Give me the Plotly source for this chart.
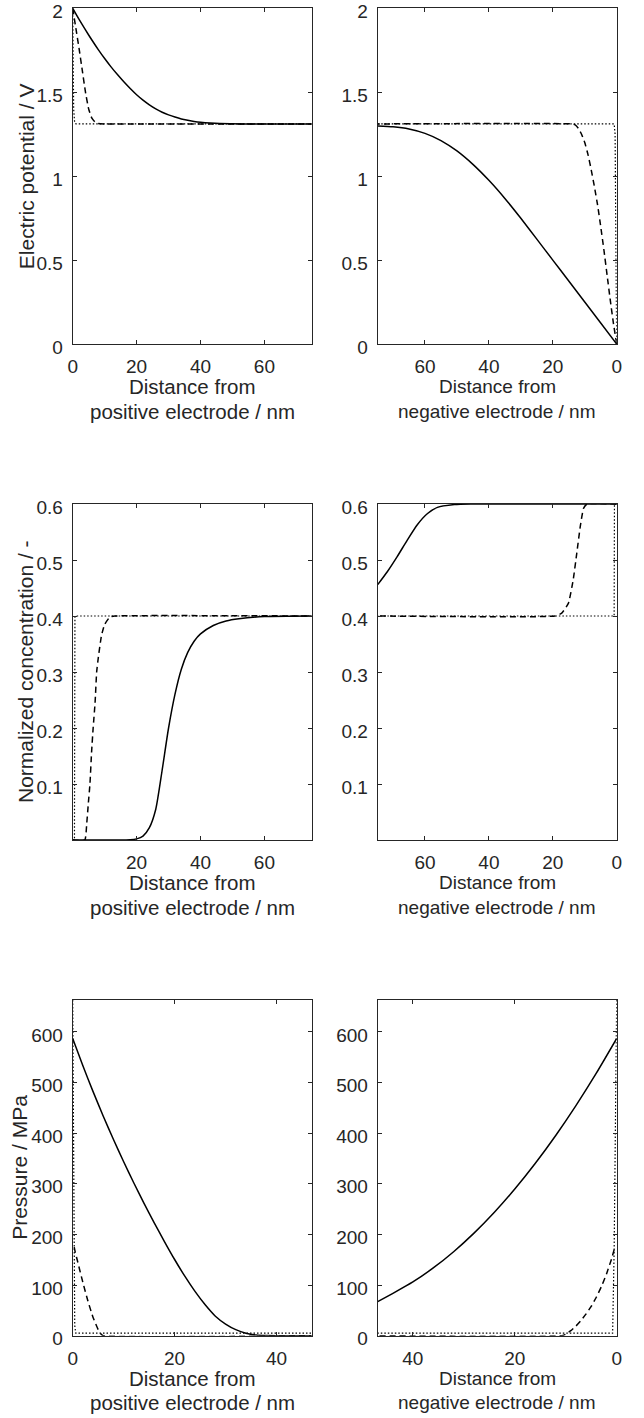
import plotly.graph_objects as go

# ---------------- data ----------------
# Row 1: electric potential / V
pot_pos_solid_x = [0, 2, 4, 6, 8, 10, 12, 14, 16, 18, 20, 22, 24, 26, 28, 30, 32, 34, 36, 38, 40, 43, 46, 50, 55, 74.8]
pot_pos_solid_y = [2.000, 1.934, 1.871, 1.811, 1.754, 1.701, 1.651, 1.605, 1.562, 1.522, 1.485, 1.453, 1.425, 1.401,
                   1.381, 1.365, 1.352, 1.341, 1.333, 1.326, 1.321, 1.316, 1.313, 1.312, 1.311, 1.311]
pot_pos_dash_x = [0, 1, 2, 3, 4, 5, 6, 7, 8, 10, 74.8]
pot_pos_dash_y = [2.0, 1.88, 1.76, 1.63, 1.50, 1.40, 1.345, 1.322, 1.314, 1.311, 1.311]
pot_pos_dot_x = [0, 0.1, 0.3, 0.6, 1.0, 74.8]
pot_pos_dot_y = [2.0, 1.7, 1.4, 1.32, 1.311, 1.311]

pot_neg_solid_x = [0, 5, 10, 15, 20, 25, 30, 35, 40, 45, 50, 55, 60, 65, 70, 74.8]
pot_neg_solid_y = [0.0, 0.125, 0.250, 0.375, 0.500, 0.625, 0.749, 0.867, 0.975, 1.070, 1.150, 1.212, 1.255,
                   1.281, 1.294, 1.299]
pot_neg_dash_x = [0, 1, 2, 3, 4, 5, 6, 7, 8, 9, 10, 11, 12, 13, 14, 74.8]
pot_neg_dash_y = [0.0, 0.12, 0.26, 0.41, 0.56, 0.70, 0.83, 0.94, 1.04, 1.13, 1.20, 1.25, 1.285, 1.305, 1.311, 1.311]
pot_neg_dot_x = [0, 0.1, 0.3, 0.5, 0.8, 74.8]
pot_neg_dot_y = [0.0, 0.3, 0.8, 1.25, 1.311, 1.311]

# Row 2: normalized concentration / -
conc_pos_solid_x = [0, 18, 20, 22, 24, 26, 28, 30, 32, 34, 36, 38, 40, 44, 48, 52, 60, 74.8]
conc_pos_solid_y = [0.0, 0.0005, 0.002, 0.007, 0.022, 0.055, 0.125, 0.200, 0.260, 0.305, 0.335, 0.355, 0.368,
                    0.383, 0.391, 0.395, 0.399, 0.400]
conc_pos_dash_x = [0, 3.8, 4.4, 4.9, 5.4, 5.9, 6.4, 7.0, 7.5, 8.0, 9.0, 10.0, 11.6, 13.2, 74.8]
conc_pos_dash_y = [0.0, 0.0, 0.03, 0.066, 0.10, 0.156, 0.20, 0.245, 0.30, 0.325, 0.365, 0.385, 0.398, 0.400, 0.400]
conc_pos_dot_x = [0, 0.55, 0.6, 0.65, 0.7, 74.8]
conc_pos_dot_y = [0.0, 0.0, 0.15, 0.3, 0.4, 0.4]

conc_neg_solid_x = [0, 45.6, 50.8, 56.1, 59.2, 62.4, 65.5, 68.7, 71.8, 74.8]
conc_neg_solid_y = [0.6, 0.600, 0.599, 0.594, 0.583, 0.563, 0.536, 0.506, 0.479, 0.456]
conc_neg_dash_x = [0, 9.3, 10.4, 11.4, 12.5, 13.6, 15.1, 17.2, 19.3, 74.8]
conc_neg_dash_y = [0.6, 0.600, 0.592, 0.560, 0.512, 0.465, 0.423, 0.405, 0.400, 0.400]
conc_neg_dot_x = [0, 0.7, 0.75, 0.8, 74.8]
conc_neg_dot_y = [0.6, 0.6, 0.5, 0.4, 0.4]

# Row 3: pressure / MPa
pres_pos_solid_x = [0, 2, 4, 6, 8, 10, 12, 14, 16, 18, 20, 22, 24, 26, 28, 30, 32, 34, 36, 38, 40, 46.9]
pres_pos_solid_y = [587, 533, 482, 433.5, 387.5, 343.5, 301.5, 261.5, 223, 186, 150.5, 117.5, 87.5, 61, 38.5, 23,
                    12, 5, 1.5, 0.3, 0, 0]
pres_pos_dash_x = [0.3, 0.5, 1, 2, 3, 4, 5, 5.5, 6, 46.9]
pres_pos_dash_y = [175, 165, 145, 105, 68, 36, 12, 4, 0, 0]
pres_pos_dot_x = [0, 0.2, 0.4, 0.6, 46.9]
pres_pos_dot_y = [663, 300, 20, 5, 5]

pres_neg_solid_x = [0, 4, 8, 12, 16, 20, 24, 28, 32, 36, 40, 44, 46.9]
pres_neg_solid_y = [587, 518.4, 454.4, 394.9, 340.0, 289.6, 243.8, 202.6, 165.9, 133.8, 106.2, 83.2, 67.2]
pres_neg_dash_x = [0.5, 1, 2, 3, 4, 5, 6, 7, 8, 9, 10, 10.8, 46.9]
pres_neg_dash_y = [170, 152, 122, 97, 76, 58, 43, 30, 19, 10, 3, 0, 0]
pres_neg_dot_x = [0, 0.2, 0.5, 0.8, 46.9]
pres_neg_dot_y = [663, 400, 170, 5, 5]

# ticks / titles
row_y_ranges = [[0, 2], [0, 0.6], [0, 663]]
row_y_ticks = [[0, 0.5, 1, 1.5, 2], [0.1, 0.2, 0.3, 0.4, 0.5, 0.6], [0, 100, 200, 300, 400, 500, 600]]
row_y_ticktext = [["0", "0.5", "1", "1.5", "2"], ["0.1", "0.2", "0.3", "0.4", "0.5", "0.6"],
                  ["0", "100", "200", "300", "400", "500", "600"]]
row_x_max = [74.8, 74.8, 46.9]
row_x_ticks_left = [[0, 20, 40, 60], [20, 40, 60], [0, 20, 40]]
row_x_ticks_right = [[0, 20, 40, 60], [0, 20, 40, 60], [0, 20, 40]]
y_titles = ["Electric potential / V", "Normalized concentration / -", "Pressure / MPa"]

# ---------------- figure ----------------
W, H = 644, 1418
FONT = "Liberation Sans, Arial, Helvetica, sans-serif"
AX = "#262626"

col_px = [(72.7, 311.7), (377.7, 616.7)]
row_px = [(8.3, 344.0), (504.0, 840.0), (1000.0, 1335.7)]

solid = dict(color="black", width=1.5, shape="spline", smoothing=0.6)
dashed = dict(color="black", width=1.5, dash="6px,4px", shape="spline", smoothing=0.4)
dotted = dict(color="black", width=1.2, dash="1.5px,2px")

panels = [
    [(pot_pos_dot_x, pot_pos_dot_y, pot_pos_dash_x, pot_pos_dash_y, pot_pos_solid_x, pot_pos_solid_y),
     (pot_neg_dot_x, pot_neg_dot_y, pot_neg_dash_x, pot_neg_dash_y, pot_neg_solid_x, pot_neg_solid_y)],
    [(conc_pos_dot_x, conc_pos_dot_y, conc_pos_dash_x, conc_pos_dash_y, conc_pos_solid_x, conc_pos_solid_y),
     (conc_neg_dot_x, conc_neg_dot_y, conc_neg_dash_x, conc_neg_dash_y, conc_neg_solid_x, conc_neg_solid_y)],
    [(pres_pos_dot_x, pres_pos_dot_y, pres_pos_dash_x, pres_pos_dash_y, pres_pos_solid_x, pres_pos_solid_y),
     (pres_neg_dot_x, pres_neg_dot_y, pres_neg_dash_x, pres_neg_dash_y, pres_neg_solid_x, pres_neg_solid_y)],
]

fig = go.Figure()
layout = dict(width=W, height=H, margin=dict(l=0, r=0, t=0, b=0, autoexpand=False), paper_bgcolor="white",
              plot_bgcolor="white", showlegend=False, font=dict(family=FONT, color=AX))
annotations = []


def px_x(v):
    return v / W


def px_y(v):
    return 1 - v / H


k = 0
for r in range(3):
    for c in range(2):
        k += 1
        xa = "x" if k == 1 else f"x{k}"
        ya = "y" if k == 1 else f"y{k}"
        dx, dy, ddx, ddy, sx, sy = panels[r][c]
        fig.add_trace(go.Scatter(x=dx, y=dy, mode="lines", line=dotted, xaxis=xa, yaxis=ya, hoverinfo="skip"))
        fig.add_trace(go.Scatter(x=ddx, y=ddy, mode="lines", line=dashed, xaxis=xa, yaxis=ya, hoverinfo="skip"))
        fig.add_trace(go.Scatter(x=sx, y=sy, mode="lines", line=solid, xaxis=xa, yaxis=ya, hoverinfo="skip"))

        x0, x1 = col_px[c]
        y0, y1 = row_px[r]
        common = dict(showline=True, linecolor=AX, linewidth=1, mirror="allticks", ticks="inside",
                      ticklen=4, tickcolor=AX, tickwidth=1, showgrid=False, zeroline=False, automargin=False,
                      tickfont=dict(family=FONT, size=19, color=AX), fixedrange=True,
                      ticklabeloverflow="allow")
        xt = row_x_ticks_left[r] if c == 0 else row_x_ticks_right[r]
        xrange = [0, row_x_max[r]] if c == 0 else [row_x_max[r], 0]
        layout["xaxis" if k == 1 else f"xaxis{k}"] = dict(
            common, domain=[px_x(x0), px_x(x1)], anchor=ya, range=xrange,
            tickvals=xt, ticktext=[str(t) for t in xt], ticklabelstandoff=5)
        layout["yaxis" if k == 1 else f"yaxis{k}"] = dict(
            common, domain=[px_y(y1), px_y(y0)], anchor=xa, range=row_y_ranges[r],
            tickvals=row_y_ticks[r], ticktext=row_y_ticktext[r], ticklabelstandoff=5, ticklabelshift=3)

        # x title (two lines)
        cx = (x0 + x1) / 2
        word = "positive" if c == 0 else "negative"
        fs = 20.5 if c == 0 else 19
        annotations.append(dict(text="Distance from", x=px_x(cx), y=px_y(y1 + 42.5), xref="paper", yref="paper",
                                xanchor="center", yanchor="middle", showarrow=False,
                                font=dict(family=FONT, size=fs, color=AX)))
        annotations.append(dict(text=f"{word} electrode / nm", x=px_x(cx), y=px_y(y1 + 67), xref="paper",
                                yref="paper", xanchor="center", yanchor="middle", showarrow=False,
                                font=dict(family=FONT, size=fs, color=AX)))
    # y title
    ytx = [26, 26, 20][r]
    annotations.append(dict(text=y_titles[r], x=px_x(ytx), y=px_y((row_px[r][0] + row_px[r][1]) / 2),
                            xref="paper", yref="paper", xanchor="center", yanchor="middle", textangle=-90,
                            showarrow=False, font=dict(family=FONT, size=21, color=AX)))

layout["annotations"] = annotations
fig.update_layout(**layout)
# remove the default 8px page margin so the figure sits flush in the 644x1418 window
fig.write_html("out.html", config={"displayModeBar": False},
               post_script="document.body.style.margin='0px';document.body.style.overflow='hidden';")
